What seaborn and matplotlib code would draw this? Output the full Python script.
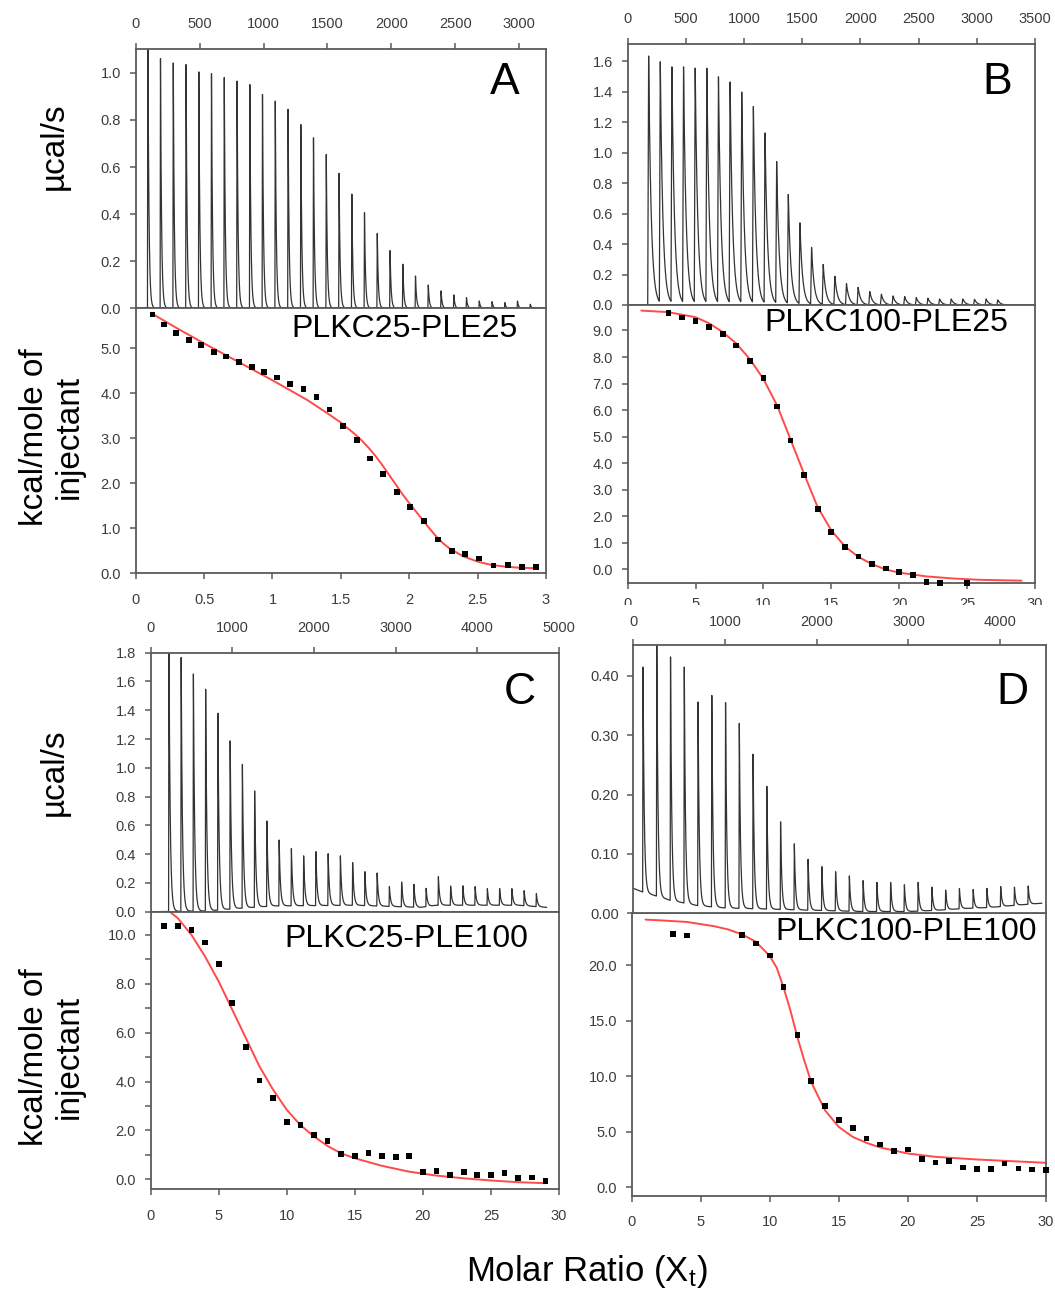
import numpy as np
import pandas as pd
import matplotlib
matplotlib.use("Agg")
import matplotlib.pyplot as plt
import seaborn as sns
from matplotlib.patches import Rectangle

# ---------------- data: raw thermograms (injection time [s], peak top [ucal/s]) -------------
a_inj_t = [92, 191, 291, 391, 491, 590, 690, 790, 890, 989, 1089, 1189, 1289, 1388, 1488, 1588,
           1688, 1787, 1887, 1987, 2087, 2186, 2286, 2386, 2486, 2585, 2685, 2785, 2885, 2984, 3084]
a_peak = [1.25, 1.06, 1.042, 1.035, 1.004, 0.997, 0.98, 0.965, 0.95, 0.908, 0.88, 0.845, 0.78, 0.724,
          0.653, 0.573, 0.485, 0.406, 0.318, 0.245, 0.187, 0.137, 0.099, 0.074, 0.057, 0.045, 0.031,
          0.028, 0.024, 0.031, 0.017]

b_inj_t = [172, 272, 372, 472, 572, 672, 772, 872, 972, 1072, 1172, 1272, 1372, 1472, 1572, 1672,
           1772, 1872, 1972, 2072, 2172, 2272, 2372, 2472, 2572, 2672, 2772, 2872, 2972, 3072, 3172]
b_peak = [1.633, 1.578, 1.545, 1.545, 1.537, 1.537, 1.48, 1.447, 1.381, 1.287, 1.115, 0.929, 0.715,
          0.531, 0.372, 0.262, 0.186, 0.138, 0.114, 0.087, 0.07, 0.059, 0.055, 0.048, 0.044, 0.039,
          0.039, 0.039, 0.037, 0.039, 0.033]

c_inj_t = [219, 369, 519, 669, 819, 969, 1119, 1269, 1419, 1569, 1719, 1869, 2019, 2169, 2319, 2469,
           2619, 2769, 2919, 3069, 3219, 3369, 3519, 3669, 3819, 3969, 4119, 4269, 4419, 4569, 4719]
c_peak = [1.95, 1.766, 1.652, 1.546, 1.379, 1.187, 1.024, 0.839, 0.630, 0.498, 0.438, 0.388, 0.417,
          0.403, 0.388, 0.341, 0.278, 0.269, 0.174, 0.206, 0.19, 0.162, 0.243, 0.178, 0.18, 0.174,
          0.16, 0.16, 0.16, 0.146, 0.125]
c_base_t = [0, 700, 1000, 1500, 2500, 3300, 3500, 4500, 4850]
c_base_y = [0.0, 0.005, 0.02, 0.04, 0.045, 0.03, 0.045, 0.045, 0.03]

d_inj_t = [102, 252, 402, 552, 702, 852, 1002, 1152, 1302, 1452, 1602, 1752, 1902, 2052, 2202, 2352,
           2502, 2652, 2802, 2952, 3102, 3252, 3402, 3552, 3702, 3852, 4002, 4152, 4302]
d_peak = [0.415, 0.47, 0.432, 0.415, 0.356, 0.367, 0.355, 0.320, 0.268, 0.214, 0.154, 0.117, 0.091,
          0.0785, 0.070, 0.063, 0.055, 0.052, 0.052, 0.048, 0.052, 0.044, 0.039, 0.0415, 0.040,
          0.042, 0.045, 0.044, 0.046]
d_base_t = [0, 100, 255, 400, 700, 1000, 1500, 2000, 2500, 3000, 3300, 3600, 3900, 4200, 4455]
d_base_y = [0.042, 0.036, 0.029, 0.022, 0.013, 0.009, 0.007, 0.005, 0.003, 0.003, 0.005, 0.008,
            0.010, 0.014, 0.017]

# ---------------- data: integrated heats (molar ratio, kcal/mole of injectant) ----------------
a_ratio = [0.122, 0.208, 0.294, 0.39, 0.48, 0.571, 0.662, 0.756, 0.849, 0.94, 1.034, 1.13, 1.226,
           1.322, 1.418, 1.517, 1.616, 1.712, 1.81, 1.909, 2.008, 2.106, 2.208, 2.312, 2.41, 2.512,
           2.616, 2.72, 2.823, 2.927]
a_heat = [5.75, 5.53, 5.34, 5.19, 5.07, 4.92, 4.82, 4.70, 4.58, 4.48, 4.35, 4.20, 4.09, 3.92, 3.64,
          3.28, 2.97, 2.55, 2.20, 1.81, 1.47, 1.16, 0.75, 0.49, 0.43, 0.33, 0.175, 0.185, 0.144, 0.134]
a_fit_x = [0.12, 0.3, 0.5, 0.75, 1.0, 1.25, 1.4, 1.5, 1.6, 1.65, 1.7, 1.75, 1.8, 1.85, 1.9, 1.95,
           2.0, 2.05, 2.1, 2.15, 2.2, 2.25, 2.3, 2.4, 2.5, 2.6, 2.7, 2.8, 2.93]
a_fit_y = [5.77, 5.45, 5.11, 4.70, 4.29, 3.86, 3.56, 3.35, 3.10, 2.96, 2.80, 2.62, 2.42, 2.20,
           1.98, 1.76, 1.56, 1.37, 1.18, 0.99, 0.81, 0.66, 0.54, 0.37, 0.26, 0.185, 0.15, 0.124,
           0.113]

b_ratio = [3, 4, 5, 6, 7, 8, 9, 10, 11, 12, 13, 14, 15, 16, 17, 18, 19, 20, 21, 22, 23, 25]
b_heat = [9.66, 9.49, 9.35, 9.13, 8.88, 8.43, 7.86, 7.20, 6.14, 4.86, 3.55, 2.28, 1.42, 0.85, 0.49,
          0.22, 0.04, -0.09, -0.22, -0.46, -0.50, -0.52]
b_fit_x = [1, 3, 5, 6, 7, 8, 9, 10, 11, 12, 13, 14, 15, 16, 17, 18, 19, 20, 22, 24, 26, 29]
b_fit_y = [9.75, 9.69, 9.50, 9.27, 8.94, 8.51, 7.92, 7.17, 6.18, 4.89, 3.59, 2.34, 1.47, 0.87, 0.47,
           0.20, 0.0, -0.12, -0.26, -0.34, -0.39, -0.42]

c_ratio = list(range(1, 30))
c_heat = [10.37, 10.37, 10.2, 9.69, 8.8, 7.2, 5.40, 4.04, 3.32, 2.33, 2.22, 1.80, 1.58, 1.02, 0.95,
          1.09, 0.95, 0.9, 0.95, 0.31, 0.34, 0.18, 0.31, 0.18, 0.18, 0.25, 0.04, 0.07, -0.07]
c_fit_x = [1.2, 1.4, 2, 3, 4, 5, 6, 7, 8, 9, 10, 11, 12, 13, 14, 15, 17, 19, 21, 23, 25, 27, 29]
c_fit_y = [11.25, 10.95, 10.68, 10.0, 9.11, 8.09, 6.93, 5.77, 4.61, 3.66, 2.84, 2.22, 1.75, 1.36,
           1.06, 0.86, 0.55, 0.31, 0.15, 0.04, -0.05, -0.12, -0.16]

d_ratio = [3, 4, 8, 9, 10, 11, 12, 13, 14, 15, 16, 17, 18, 19, 20, 21, 22, 23, 24, 25, 26, 27, 28,
           29, 30]
d_heat = [22.85, 22.70, 22.76, 21.98, 20.9, 18.09, 13.73, 9.57, 7.30, 6.10, 5.38, 4.40, 3.86, 3.26,
          3.41, 2.54, 2.24, 2.36, 1.79, 1.67, 1.67, 2.15, 1.70, 1.61, 1.55]
d_fit_x = [1, 2, 4, 6, 7, 8, 9, 10, 10.5, 11, 11.5, 12, 12.5, 13, 14, 15, 16, 17, 18, 20, 22, 25,
           28, 30]
d_fit_y = [24.13, 24.07, 23.92, 23.53, 23.24, 22.79, 22.13, 20.84, 19.80, 18.0, 15.91, 13.52,
           11.42, 9.48, 6.94, 5.44, 4.55, 4.01, 3.59, 3.05, 2.75, 2.51, 2.33, 2.21]

titles = ["PLKC25-PLE25", "PLKC100-PLE25", "PLKC25-PLE100", "PLKC100-PLE100"]
letters = ["A", "B", "C", "D"]

# ---------------- styling ----------------
sns.set_theme(style="ticks")
plt.rcParams["font.family"] = ["Liberation Sans", "DejaVu Sans"]
plt.rcParams["mathtext.fontset"] = "custom"
plt.rcParams["mathtext.rm"] = "Liberation Sans"
plt.rcParams["mathtext.it"] = "Liberation Sans"

W, H = 1055, 1294
fig = plt.figure(figsize=(W / 100, H / 100), dpi=100)
fig.patch.set_facecolor("white")

SPINE = "#5a5a5a"
LABC = "#3c3c3c"
RED = "#ff4a4a"


def box(l, r, t, b):
    return [l / W, 1 - b / H, (r - l) / W, (b - t) / H]


def style(ax):
    ax.set_facecolor("white")
    for s in ax.spines.values():
        s.set_color(SPINE)
        s.set_linewidth(1.3)
    ax.tick_params(which="both", colors=SPINE, labelcolor=LABC, labelsize=10.5,
                   length=4, width=1.1, direction="out")
    ax.set_xlabel("")
    ax.set_ylabel("")


def thermogram(ax, inj_t, tops, t0, t1, rise, tau, base_t=None, base_y=None):
    t = np.arange(t0, t1, 0.5)
    if base_t is None:
        base_t, base_y = [t0, t1], [0.0, 0.0]
    y = np.interp(t, base_t, base_y)
    for ti, top in zip(inj_t, tops):
        amp = top - np.interp(ti, base_t, base_y)
        dt = t - ti
        shape = np.where(dt < 0, 0.0, np.where(dt < rise, dt / rise, np.exp(-(dt - rise) / tau)))
        y = y + amp * shape
    ax.plot(t, y, color="#333333", lw=0.9)


def top_axes(rect, xlim, xticks, ylim, yticks, yfmt, zorder=0, xpad=9):
    ax = fig.add_axes(rect, zorder=zorder)
    style(ax)
    ax.xaxis.tick_top()
    ax.set_xlim(*xlim)
    ax.set_ylim(*ylim)
    ax.set_xticks(xticks)
    ax.set_xticklabels([str(v) for v in xticks])
    ax.set_yticks(yticks)
    ax.set_yticklabels([yfmt.format(v) for v in yticks])
    ax.tick_params(axis="x", pad=xpad)
    ax.tick_params(axis="y", pad=6.5)
    return ax


def bottom_axes(rect, xlim, xticks, xlabels, ylim, yticks, yfmt, minor=None, xpad=10):
    ax = fig.add_axes(rect)
    style(ax)
    ax.set_xlim(*xlim)
    ax.set_ylim(*ylim)
    ax.set_xticks(xticks)
    ax.set_xticklabels(xlabels)
    ax.set_yticks(yticks)
    ax.set_yticklabels([yfmt.format(v) for v in yticks])
    if minor is not None:
        ax.set_yticks(minor, minor=True)
    ax.tick_params(axis="x", pad=xpad)
    ax.tick_params(axis="y", pad=6.5)
    return ax


def heats(ax, rx, hy, fx, fy):
    sns.lineplot(x=fx, y=fy, ax=ax, color=RED, lw=1.4, sort=False, estimator=None, zorder=2)
    sns.scatterplot(x=rx, y=hy, ax=ax, marker="s", s=17, color="black", edgecolor="none",
                    zorder=3, clip_on=False)
    ax.set_xlabel("")
    ax.set_ylabel("")


# ---------------- Panel A ----------------
axA = top_axes(box(135.7, 546, 49.3, 308.3), (0, 3210), list(range(0, 3001, 500)),
               (0, 1.10), [0.0, 0.2, 0.4, 0.6, 0.8, 1.0], "{:.1f}")
thermogram(axA, a_inj_t, a_peak, 40, 3150, 3, 8)
axA2 = bottom_axes(box(135.7, 546, 308.3, 573.3), (0, 3.0), [0, 0.5, 1, 1.5, 2, 2.5, 3],
                   ["0", "0.5", "1", "1.5", "2", "2.5", "3"], (0, 5.89),
                   [0, 1, 2, 3, 4, 5], "{:.1f}")
heats(axA2, a_ratio, a_heat, a_fit_x, a_fit_y)

# ---------------- Panel B ----------------
axB = top_axes(box(627.7, 1035, 44.3, 305), (0, 3500), list(range(0, 3501, 500)),
               (0, 1.71), [0.0, 0.2, 0.4, 0.6, 0.8, 1.0, 1.2, 1.4, 1.6], "{:.1f}")
thermogram(axB, b_inj_t, b_peak, 100, 3265, 8, 22)
axB2 = bottom_axes(box(627.7, 1035, 305, 583.3), (0, 30), [0, 5, 10, 15, 20, 25, 30],
                   ["0", "5", "10", "15", "20", "25", "30"], (-0.52, 9.96),
                   list(range(0, 10)), "{:.1f}", xpad=6)
heats(axB2, b_ratio, b_heat, b_fit_x, b_fit_y)

# ---------------- Panel C ----------------
axC = top_axes(box(150.7, 559, 652.7, 911.7), (0, 5000), list(range(0, 5001, 1000)),
               (0, 1.8), [0.0, 0.2, 0.4, 0.6, 0.8, 1.0, 1.2, 1.4, 1.6, 1.8], "{:.1f}")
thermogram(axC, c_inj_t, c_peak, 0, 4850, 4, 15, c_base_t, c_base_y)
axC2 = bottom_axes(box(150.7, 559, 911.7, 1189.3), (0, 30), [0, 5, 10, 15, 20, 25, 30],
                   ["0", "5", "10", "15", "20", "25", "30"], (-0.41, 10.95),
                   [0, 2, 4, 6, 8, 10], "{:.1f}", minor=[1, 3, 5, 7, 9])
heats(axC2, c_ratio, c_heat, c_fit_x, c_fit_y)

# ---------------- Panel D ----------------
axD = top_axes(box(633.3, 1046, 645, 913.3), (0, 4500), list(range(0, 4001, 1000)),
               (0, 0.452), [0.0, 0.1, 0.2, 0.3, 0.4], "{:.2f}", zorder=3, xpad=7.5)
thermogram(axD, d_inj_t, d_peak, 0, 4455, 4, 13, d_base_t, d_base_y)
axD2 = bottom_axes(box(631.7, 1046, 913.3, 1196), (0, 30), [0, 5, 10, 15, 20, 25, 30],
                   ["0", "5", "10", "15", "20", "25", "30"], (-0.78, 24.7),
                   [0, 5, 10, 15, 20], "{:.1f}")
heats(axD2, d_ratio, d_heat, d_fit_x, d_fit_y)

# B's bottom tick labels are half hidden behind the lower row in the reference
fig.add_artist(Rectangle((612 / W, 1 - 640 / H), (W - 612) / W, 35 / H,
                         transform=fig.transFigure, facecolor="white", edgecolor="none",
                         zorder=2))

# ---------------- texts ----------------
def ftext(x, y, s, **kw):
    fig.text(x / W, 1 - y / H, s, **kw)


for (x, y), s in zip([(505, 82), (997, 82), (520, 692), (1012, 692)], letters):
    ftext(x, y, s, fontsize=32, ha="center", va="center", color="black", zorder=5)

for (x, y), s in zip([(291, 329), (764, 323), (284, 939), (775, 932)], titles):
    ftext(x, y, s, fontsize=23, ha="left", va="center", color="black", zorder=5)

ftext(54, 146, "µcal/s", fontsize=24, rotation=90, ha="center", va="center", color="black")
ftext(54, 772, "µcal/s", fontsize=24, rotation=90, ha="center", va="center", color="black")
ftext(52, 437, "kcal/mole of\ninjectant", fontsize=24, rotation=90, ha="center", va="center",
      color="black", linespacing=1.15)
ftext(52, 1057, "kcal/mole of\ninjectant", fontsize=24, rotation=90, ha="center", va="center",
      color="black", linespacing=1.15)
ftext(587, 1272, "Molar Ratio (X$_\\mathregular{t}$)", fontsize=25, ha="center", va="center",
      color="black")

fig.savefig("out.png", dpi=100, facecolor="white")
